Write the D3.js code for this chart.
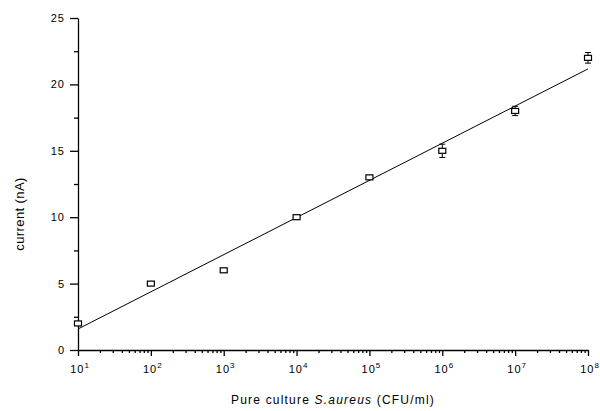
<!DOCTYPE html>
<html>
<head>
<meta charset="utf-8">
<script src="https://cdn.jsdelivr.net/npm/d3@7"></script>
<style>
  body { margin: 0; background: #fff; }
  svg { display: block; font-family: "Liberation Sans", Arial, sans-serif; }
  .axis path, .axis line { stroke: #000; stroke-width: 1.3; }
  .axis text { fill: #000; font-size: 11px; letter-spacing: 1px; }
</style>
</head>
<body>
<div id="chart"></div>
<script>
// data
const concentrations = [1e1, 1e2, 1e3, 1e4, 1e5, 1e6, 1e7, 1e8] // CFU/ml
const currents = [2, 5, 6, 10, 13, 15, 18, 22] // nA
const errors = [0.15, 0.15, 0.15, 0.15, 0.15, 0.5, 0.35, 0.4]
const yTicks = [0, 5, 10, 15, 20, 25]
const yMinorTicks = [2.5, 7.5, 12.5, 17.5, 22.5]
const xExponents = [1, 2, 3, 4, 5, 6, 7, 8]

const width = 600
const height = 411
const margin = { left: 78, right: 12, top: 18, bottom: 61 }

const svg = d3.select('#chart').append('svg')
  .attr('width', width)
  .attr('height', height)

const x = d3.scaleLog().domain([1e1, 1e8]).range([margin.left, width - margin.right])
const y = d3.scaleLinear().domain([0, 25]).range([height - margin.bottom, margin.top])

// minor ticks on the log axis: 2..9 in each decade
const xMinor = []
for (let e = 1; e < 8; e++) {
  for (let m = 2; m <= 9; m++) xMinor.push(m * Math.pow(10, e))
}

// x axis
svg.append('g')
  .attr('class', 'axis')
  .attr('transform', `translate(0,${y(0)})`)
  .call(d3.axisBottom(x).tickValues(xMinor).tickSize(3).tickSizeOuter(0).tickFormat(''))

const xMajor = svg.append('g')
  .attr('class', 'axis')
  .attr('transform', `translate(0,${y(0)})`)
  .call(d3.axisBottom(x).tickValues(xExponents.map(e => Math.pow(10, e))).tickSize(6).tickSizeOuter(0).tickFormat(''))
xMajor.select('.domain').remove()

const xLabels = svg.append('g').attr('class', 'axis')
xExponents.forEach(e => {
  const t = xLabels.append('text')
    .attr('x', x(Math.pow(10, e)) + 2)
    .attr('y', y(0) + 23)
    .attr('text-anchor', 'middle')
  t.append('tspan').text('10')
  t.append('tspan').attr('dy', -5).style('font-size', '8px').text(e)
})

// y axis
svg.append('g')
  .attr('class', 'axis')
  .attr('transform', `translate(${x(1e1)},0)`)
  .call(d3.axisLeft(y).tickValues(yMinorTicks).tickSize(4).tickSizeOuter(0).tickFormat(''))

const yMajor = svg.append('g')
  .attr('class', 'axis')
  .attr('transform', `translate(${x(1e1)},0)`)
  .call(d3.axisLeft(y).tickValues(yTicks).tickSize(8).tickSizeOuter(0).tickPadding(5))
yMajor.select('.domain').remove()

// least squares fit of current against log10(concentration)
const lx = concentrations.map(c => Math.log10(c))
const mx = d3.mean(lx)
const my = d3.mean(currents)
const slope = d3.sum(lx, (v, i) => (v - mx) * (currents[i] - my)) / d3.sum(lx, v => (v - mx) * (v - mx))
const intercept = my - slope * mx
const fitLine = d3.line()
  .x(d => x(d))
  .y(d => y(intercept + slope * Math.log10(d)))

svg.append('path')
  .datum([1e1, 1e8])
  .attr('d', fitLine)
  .attr('fill', 'none')
  .attr('stroke', '#000')
  .attr('stroke-width', 1)

// error bars
const pts = concentrations.map((c, i) => ({ c, v: currents[i], e: errors[i] }))
const eb = svg.append('g').attr('stroke', '#000').attr('stroke-width', 1)
pts.forEach(d => {
  const cx = x(d.c)
  eb.append('line').attr('x1', cx).attr('x2', cx).attr('y1', y(d.v - d.e)).attr('y2', y(d.v + d.e))
  eb.append('line').attr('x1', cx - 3).attr('x2', cx + 3).attr('y1', y(d.v - d.e)).attr('y2', y(d.v - d.e))
  eb.append('line').attr('x1', cx - 3).attr('x2', cx + 3).attr('y1', y(d.v + d.e)).attr('y2', y(d.v + d.e))
})

// square markers
svg.selectAll('.pt')
  .data(pts)
  .enter().append('rect')
  .attr('class', 'pt')
  .attr('x', d => x(d.c) - 3.5)
  .attr('y', d => y(d.v) - 2.5)
  .attr('width', 7)
  .attr('height', 5)
  .attr('fill', '#fff')
  .attr('stroke', '#000')
  .attr('stroke-width', 1.2)

// axis titles
const xTitle = svg.append('text')
  .attr('x', 333)
  .attr('y', 404)
  .attr('text-anchor', 'middle')
  .style('font-size', '12px')
  .style('letter-spacing', '1.2px')
xTitle.append('tspan').text('Pure culture ')
xTitle.append('tspan').style('font-style', 'italic').text('S.aureus')
xTitle.append('tspan').text(' (CFU/ml)')

svg.append('text')
  .attr('transform', `translate(24,${(y(0) + y(25)) / 2 + 30}) rotate(-90)`)
  .attr('text-anchor', 'middle')
  .style('font-size', '13px')
  .style('letter-spacing', '0.4px')
  .text('current (nA)')
</script>
</body>
</html>
